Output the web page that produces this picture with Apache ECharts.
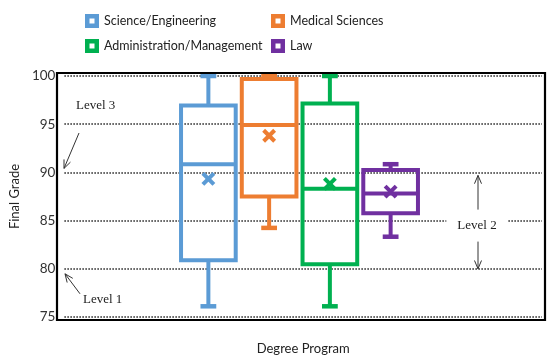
<!DOCTYPE html>
<html>
<head>
<meta charset="utf-8">
<script src="https://cdn.jsdelivr.net/npm/echarts@6/dist/echarts.min.js"></script>
<style>html,body{margin:0;padding:0;background:#fff;}#c{width:550px;height:360px;}</style>
</head>
<body>
<div id="c"></div>
<script>
// ---- data ----
const categories = ['Science/Engineering', 'Medical Sciences', 'Administration/Management', 'Law'];
const mins    = [76.5, 84.5, 76.5, 83.6];
const q1s     = [81.2, 87.7, 80.8, 86.0];
const medians = [91.0, 95.0, 88.5, 88.0];
const q3s     = [97.0, 99.7, 97.2, 90.4];
const maxs    = [100, 100, 100, 91.0];
const means   = [89.5, 93.9, 89.0, 88.2];
const yTicks  = [75, 80, 85, 90, 95, 100];
const colors  = ['#5B9BD5', '#ED7D31', '#00B050', '#7030A0'];

const FONT = 'Lato';
const SERIF = 'Liberation Serif';

function renderBox(params, api) {
  const i = api.value(0);
  const band = api.size([1, 0])[0];
  const half = band * 0.45;
  const capHalf = band * 0.13;
  const pMin = api.coord([i, api.value(1)]);
  const pQ1 = api.coord([i, api.value(2)]);
  const pMed = api.coord([i, api.value(3)]);
  const pQ3 = api.coord([i, api.value(4)]);
  const pMax = api.coord([i, api.value(5)]);
  const pMean = api.coord([i, api.value(6)]);
  const x = pMed[0];
  const c = api.visual('color');
  const st = { stroke: c, lineWidth: 4, fill: null };
  const m = 5.5;
  return {
    type: 'group',
    children: [
      { type: 'rect', shape: { x: x - half, y: pQ3[1], width: half * 2, height: pQ1[1] - pQ3[1] }, style: st },
      { type: 'line', shape: { x1: x - half, y1: pMed[1], x2: x + half, y2: pMed[1] }, style: st },
      { type: 'line', shape: { x1: x, y1: pQ3[1], x2: x, y2: pMax[1] }, style: st },
      { type: 'line', shape: { x1: x, y1: pQ1[1], x2: x, y2: pMin[1] }, style: st },
      { type: 'line', shape: { x1: x - capHalf, y1: pMax[1], x2: x + capHalf, y2: pMax[1] }, style: { stroke: c, lineWidth: 4.5 } },
      { type: 'line', shape: { x1: x - capHalf, y1: pMin[1], x2: x + capHalf, y2: pMin[1] }, style: { stroke: c, lineWidth: 4.5 } },
      { type: 'line', shape: { x1: pMean[0] - m, y1: pMean[1] - m, x2: pMean[0] + m, y2: pMean[1] + m }, style: { stroke: c, lineWidth: 4 } },
      { type: 'line', shape: { x1: pMean[0] - m, y1: pMean[1] + m, x2: pMean[0] + m, y2: pMean[1] - m }, style: { stroke: c, lineWidth: 4 } }
    ]
  };
}

const series = categories.map((name, i) => ({
  name: name,
  type: 'custom',
  xAxisIndex: 1,
  yAxisIndex: 1,
  itemStyle: { color: colors[i] },
  renderItem: renderBox,
  data: [[i, mins[i], q1s[i], medians[i], q3s[i], maxs[i], means[i]]],
  z: 3
}));

const legendIcon = 'path://M0,0H14V14H0Z M4.5,4.5V9.5H9.5V4.5Z';
function legendCol(left, names) {
  return {
    orient: 'vertical', left: left, top: 9,
    itemWidth: 14, itemHeight: 14, itemGap: 11, itemStyle: {},
    icon: legendIcon, selectedMode: false,
    textStyle: { fontFamily: FONT, fontSize: 12.5, color: '#222' },
    data: names
  };
}

const option = {
  animation: false,
  backgroundColor: '#fff',
  legend: [
    legendCol(80, [categories[0], categories[2]]),
    legendCol(266, [categories[1], categories[3]])
  ],
  grid: [
    { left: 60, right: 8, top: 76, bottom: 39 },
    { left: 178, right: 129, top: 76, bottom: 39 }
  ],
  xAxis: [
    { type: 'category', gridIndex: 0, data: ['Degree Program'],
      name: 'Degree Program', nameLocation: 'middle', nameGap: 25,
      nameTextStyle: { fontFamily: FONT, fontSize: 13, color: '#222' },
      axisLine: { show: false }, axisTick: { show: false }, axisLabel: { show: false }, splitLine: { show: false } },
    { type: 'category', gridIndex: 1, data: categories,
      axisLine: { show: false }, axisTick: { show: false }, axisLabel: { show: false }, splitLine: { show: false } }
  ],
  yAxis: [
    { type: 'value', gridIndex: 0, min: yTicks[0], max: yTicks[yTicks.length - 1], interval: 5,
      name: 'Final Grade', nameLocation: 'middle', nameGap: 43,
      nameTextStyle: { fontFamily: FONT, fontSize: 13, color: '#222' },
      axisLine: { show: false }, axisTick: { show: false },
      axisLabel: { fontFamily: FONT, fontSize: 13.5, color: '#333', margin: 9 },
      splitLine: { show: true, lineStyle: { color: '#222', width: 1.5, type: [1.5, 1.5] } } },
    { type: 'value', gridIndex: 1, min: yTicks[0], max: yTicks[yTicks.length - 1], interval: 5,
      show: false, splitLine: { show: false } }
  ],
  series: series
};

const chart = echarts.init(document.getElementById('c'));
chart.setOption(option);

// ---- annotations (anchored to the y axis scale) ----
const yp = v => chart.convertToPixel({ yAxisIndex: 0 }, v);
const gx0 = 60, gx1 = 542;
const ink = '#333';
function arrow(x1, y1, x2, y2) {
  const ang = Math.atan2(y2 - y1, x2 - x1);
  const L = 9, a = 0.4;
  const w1 = [x2 - L * Math.cos(ang - a), y2 - L * Math.sin(ang - a)];
  const w2 = [x2 - L * Math.cos(ang + a), y2 - L * Math.sin(ang + a)];
  return [
    { type: 'line', shape: { x1: x1, y1: y1, x2: x2, y2: y2 }, style: { stroke: ink, lineWidth: 1 }, z: 10 },
    { type: 'polyline', shape: { points: [w1, [x2, y2], w2] }, style: { stroke: ink, lineWidth: 1, fill: null }, z: 10 }
  ];
}
const y100 = yp(100), y75 = yp(75), y90 = yp(90), y80 = yp(80), y85 = yp(85);
const graphics = [
  { type: 'rect', shape: { x: gx0 - 3, y: y100 - 3, width: gx1 - gx0 + 6, height: y75 - y100 + 6 },
    style: { fill: null, stroke: '#000', lineWidth: 2.2 }, z: 10 },
  { type: 'text', x: 76, y: y100 + 30, style: { text: 'Level 3', font: '13px "' + SERIF + '"', fill: '#222', verticalAlign: 'middle' }, z: 10 },
  { type: 'text', x: 83, y: y80 + 31, style: { text: 'Level 1', font: '13px "' + SERIF + '"', fill: '#222', verticalAlign: 'middle' }, z: 10 },
  { type: 'text', x: 477, y: y85 + 5, style: { text: 'Level 2', font: '13px "' + SERIF + '"', fill: '#222', align: 'center', verticalAlign: 'middle',
      backgroundColor: '#fff', padding: [2, 11] }, z: 10 }
].concat(
  arrow(79, y100 + 57, 64, y90 - 4),
  arrow(80, y80 + 25, 65, y80 + 5),
  arrow(478, y85 - 11, 478, y90 + 3),
  arrow(478, y85 + 21, 478, y80)
);
chart.setOption({ graphic: graphics });
</script>
</body>
</html>
